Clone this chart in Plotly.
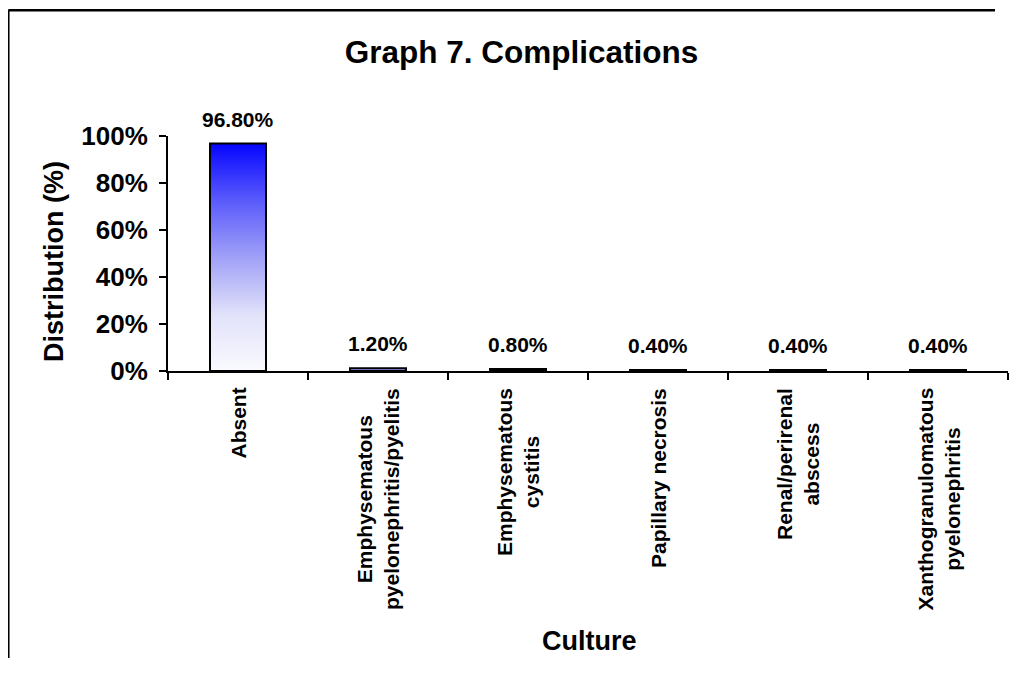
import plotly.graph_objects as go

# ---- data ----
categories = ["Absent", "Emphysematous pyelonephritis/pyelitis", "Emphysematous cystitis",
              "Papillary necrosis", "Renal/perirenal abscess", "Xanthogranulomatous pyelonephritis"]
category_labels = ["Absent", "Emphysematous<br>pyelonephritis/pyelitis", "Emphysematous<br>cystitis",
                   "Papillary necrosis", "Renal/perirenal<br>abscess", "Xanthogranulomatous<br>pyelonephritis"]
values = [96.8, 1.2, 0.8, 0.4, 0.4, 0.4]
y_ticks = [0, 20, 40, 60, 80, 100]
y_tick_labels = ["0%", "20%", "40%", "60%", "80%", "100%"]

FONT = "Liberation Sans, Arial, sans-serif"
BAR_HALF = 0.2
gradient = [[0, "rgb(250,250,255)"], [0.25, "rgb(225,225,250)"], [0.5, "rgb(160,160,248)"],
            [0.75, "rgb(90,90,252)"], [1, "rgb(5,5,255)"]]

# page body has an 8px margin; layout is expressed in page pixels minus that offset
OFF = 8
W, H = 1017 - 2 * OFF, 650
PL, PR, PT, PB = 168 - OFF, 1008 - OFF, 136 - OFF, 371 - OFF
PW, PH = PR - PL, PB - PT


def px_x(px):
    return (px - OFF - PL) / PW


def px_y(py):
    return (PB - (py - OFF)) / PH


fig = go.Figure()

# gradient fills (numeric base x axis)
for i, v in enumerate(values):
    fig.add_trace(go.Scatter(
        x=[i - BAR_HALF, i + BAR_HALF, i + BAR_HALF, i - BAR_HALF, i - BAR_HALF],
        y=[0, 0, v, v, 0],
        mode="lines", line=dict(width=0), fill="toself",
        fillgradient=dict(type="vertical", colorscale=gradient),
        xaxis="x", yaxis="y", hoverinfo="skip", showlegend=False))

# bar outlines (category axis)
fig.add_trace(go.Bar(
    x=categories, y=values, xaxis="x2", yaxis="y",
    marker=dict(color="rgba(0,0,0,0)", line=dict(color="black", width=2)),
    width=2 * BAR_HALF, showlegend=False))

annotations = []
for cat, lab, v in zip(categories, category_labels, values):
    annotations.append(dict(x=cat, y=0, xref="x2", yref="y", text=lab, showarrow=False,
                            textangle=-90, align="center", xanchor="center", yanchor="top",
                            yshift=-15, font=dict(family=FONT, size=21, color="black", weight="bold")))
    annotations.append(dict(x=cat, y=v, xref="x2", yref="y", text=f"{v:.2f}%", showarrow=False,
                            xanchor="center", yanchor="bottom", yshift=11,
                            font=dict(family=FONT, size=21, color="black", weight="bold")))

# axis titles
annotations.append(dict(x=px_x(589), y=px_y(641), xref="paper", yref="paper", text="Culture",
                        showarrow=False, xanchor="center", yanchor="middle",
                        font=dict(family=FONT, size=27, color="black", weight="bold")))
annotations.append(dict(x=px_x(53.5), y=px_y(261.5), xref="paper", yref="paper",
                        text="Distribution (%)", showarrow=False, textangle=-90,
                        xanchor="center", yanchor="middle",
                        font=dict(family=FONT, size=27, color="black", weight="bold")))

border = dict(color="black", width=2.5)
fig.update_layout(
    width=W, height=H,
    margin=dict(l=PL, r=W - PR, t=PT, b=H - PB),
    paper_bgcolor="white", plot_bgcolor="white",
    title=dict(text="Graph 7. Complications", xref="container", yref="container",
               x=(521.5 - OFF) / W, y=1 - (52 - OFF) / H, xanchor="center", yanchor="middle",
               font=dict(family=FONT, size=31.5, color="black", weight="bold")),
    xaxis=dict(range=[-0.5, 5.5], visible=False, fixedrange=True),
    xaxis2=dict(type="category", overlaying="x", anchor="y", side="bottom",
                range=[-0.5, 5.5], showline=True, linecolor="black", linewidth=2,
                ticks="outside", tickson="boundaries", ticklen=7, tickwidth=2, tickcolor="black",
                showticklabels=False, showgrid=False, zeroline=False),
    yaxis=dict(range=[0, 100], tickmode="array", tickvals=y_ticks, ticktext=y_tick_labels,
               showline=True, linecolor="black", linewidth=2, ticks="outside", ticklen=7,
               tickwidth=2, tickcolor="black", showgrid=False, zeroline=False,
               ticklabelstandoff=6,
               tickfont=dict(family=FONT, size=26, color="black", weight="bold")),
    annotations=annotations,
    shapes=[
        dict(type="line", xref="paper", yref="paper",
             x0=px_x(8.3), x1=px_x(8.3), y0=px_y(H + OFF), y1=px_y(10.3), line=border, layer="below"),
        dict(type="line", xref="paper", yref="paper",
             x0=px_x(8.3), x1=px_x(995), y0=px_y(10.3), y1=px_y(10.3), line=border, layer="below"),
    ],
    bargap=0.6,
)

fig.write_html("out.html")
